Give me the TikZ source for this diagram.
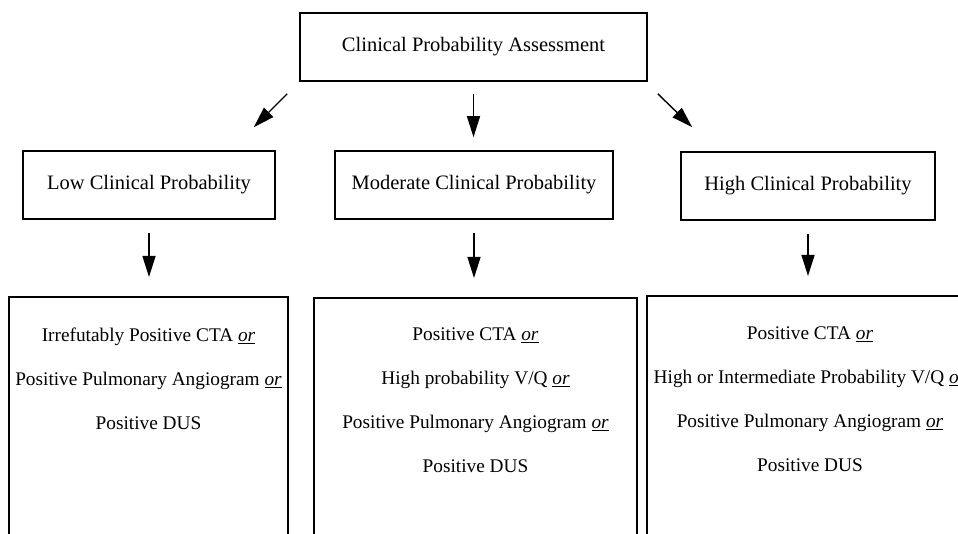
\documentclass[tikz,border=0pt]{standalone}
\usepackage{fontspec}
\setmainfont{Liberation Serif}
\usetikzlibrary{arrows.meta}

\newcommand{\orMark}{\underline{\textit{or}}}

\begin{document}
\begin{tikzpicture}
[x=1pt,y=-1pt,%
  boxDecorate/.style={draw,line width=1.6pt,inner sep=0pt,font=\fontsize{20.5}{24}\selectfont},
  listDecorate/.style={align=center,inner sep=0pt,anchor=north,font=\fontsize{19.3}{44}\selectfont},
  arrowDecorate/.style={-{Triangle[length=21pt,width=13pt]},line width=1.4pt}]
\useasboundingbox (0,0) rectangle (958,534);
\clip (0,0) rectangle (958,534);
% first and second row
\node[boxDecorate,minimum width=347,minimum height=68] (assess) at (473.5,47) {Clinical Probability Assessment};
\node[boxDecorate,minimum width=252,minimum height=68] (low) at (149,185) {Low Clinical Probability};
\node[boxDecorate,minimum width=278,minimum height=68] (moderate) at (474,185) {Moderate Clinical Probability};
\node[boxDecorate,minimum width=254,minimum height=68] (high) at (808,186) {High Clinical Probability};
% third row, the boxes run off the page
\node[boxDecorate,minimum width=279,minimum height=300,anchor=north] (lowTest) at (148.5,296) {};
\node[boxDecorate,minimum width=323,minimum height=300,anchor=north] (moderateTest) at (475.5,297) {};
\node[boxDecorate,minimum width=326,minimum height=300,anchor=north] (highTest) at (810,295) {};
\node[listDecorate] (lowList) at ([yshift=-32pt]lowTest.north)
  {Irrefutably Positive CTA \orMark\\ Positive Pulmonary Angiogram \orMark\\ Positive DUS};
\node[listDecorate] (moderateList) at ([yshift=-31pt]moderateTest.north)
  {Positive CTA \orMark\\ High probability V/Q \orMark\\ Positive Pulmonary Angiogram \orMark\\ Positive DUS};
\node[listDecorate] (highList) at ([yshift=-32pt]highTest.north)
  {Positive CTA \orMark\\ High or Intermediate Probability V/Q \orMark\\ Positive Pulmonary Angiogram \orMark\\ Positive DUS};
% arrows
\draw[arrowDecorate] ([shift={(-12,12)}]assess.south west) -- ([shift={(-22,-23)}]low.north east);
\draw[arrowDecorate,shorten <=12pt,shorten >=13pt] (assess.south) -- (assess.south |- moderate.north);
\draw[arrowDecorate] ([shift={(10,12)}]assess.south east) -- ([shift={(12,-24)}]high.north west);
\foreach \startNode/\endNode in {low/lowTest, moderate/moderateTest, high/highTest}
{
  \draw[arrowDecorate,shorten <=13pt,shorten >=19pt] (\startNode.south) -- (\startNode.south |- \endNode.north);
}
\end{tikzpicture}
\end{document}
